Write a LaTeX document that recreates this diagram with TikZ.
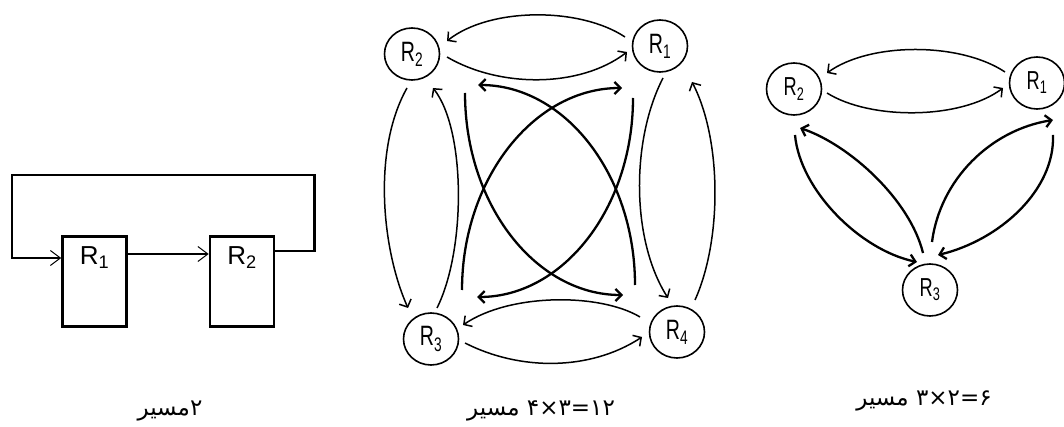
\documentclass[tikz,border=0pt]{standalone}
\usepackage{fontspec}
\setmainfont{Liberation Sans}
\newfontfamily\farsi[Script=Arabic]{DejaVu Sans}
\newfontfamily\narrowsf[FakeStretch=0.7]{Liberation Sans}
\usetikzlibrary{arrows.meta,calc,shapes.geometric}
\TeXXeTstate=1

\tikzset{
  reg/.style={draw,ellipse,line width=1.6pt,minimum width=55pt,minimum height=52pt,
    inner sep=0pt,font=\narrowsf\fontsize{28}{28}\selectfont},
  regr/.style={reg,font=\narrowsf\fontsize{26}{26}\selectfont},
  regbox/.style={draw,line width=2.6pt,minimum width=64pt,minimum height=90pt,inner sep=0pt},
  boxlab/.style={anchor=north,inner sep=0pt,yshift=-11.5pt,font=\fontsize{26}{26}\selectfont},
  wire/.style={line width=2.6pt},
  link/.style={line width=1.5pt,-{Straight Barb[length=6pt,width=13pt]}},
  boldlink/.style={line width=2.3pt,-{Straight Barb[length=6pt,width=12pt]}},
  caption/.style={font=\farsi\fontsize{23}{23}\selectfont}
}

\begin{document}
\begin{tikzpicture}[x=1pt,y=-1pt,>={Straight Barb[length=10pt,width=15pt,line width=1pt]}]
\useasboundingbox (0,0) rectangle (1064,427);

% two registers in a ring
\node[regbox,label={[boxlab]north:R\textsubscript{1}}] (R1b) at (94.5,281.5) {};
\node[regbox,label={[boxlab]north:R\textsubscript{2}}] (R2b) at (242,281.5) {};
\draw[wire,->] ($(R1b.east)+(0,-27.5)$) -- ($(R2b.west)+(0,-27.5)$);
\draw[wire,->] ($(R2b.east)+(0,-30.5)$) -- ++(39,0) |- (12,175) |- ($(R1b.west)+(0,-23.5)$);
\node[caption] (capA) at (170,411) {\beginR ۲\hbox{}مسیر\endR};

% four registers
\node[reg] (R2m) at (412,54) {R\textsubscript{2}};
\node[reg] (R1m) at (660,46) {R\textsubscript{1}};
\node[reg] (R3m) at (431,339) {R\textsubscript{3}};
\node[reg] (R4m) at (677,332) {R\textsubscript{4}};

\draw[link] ($(R1m)+(-35,-9)$) .. controls (580,7) and (490,7) .. ($(R2m)+(35,-13)$);
\draw[link] ($(R2m)+(35,3)$) .. controls (500,88) and (580,88) .. ($(R1m)+(-33,6)$);
\draw[link] ($(R2m)+(-5,34)$) .. controls (372,150) and (382,250) .. ($(R3m)+(-23,-31)$);
\draw[link] ($(R3m)+(6,-31)$) .. controls (466,250) and (466,130) .. ($(R2m)+(21,34)$);
\draw[link] ($(R1m)+(3,32)$) .. controls (631,140) and (631,240) .. ($(R4m)+(-9,-34)$);
\draw[link] ($(R4m)+(18,-32)$) .. controls (722,240) and (722,140) .. ($(R1m)+(32,36)$);
\draw[link] ($(R4m)+(-37,-15)$) .. controls (600,293) and (510,293) .. ($(R3m)+(32,-14)$);
\draw[link] ($(R3m)+(34,4)$) .. controls (520,371) and (590,371) .. ($(R4m)+(-35,5)$);

\draw[boldlink] ($(R2m)+(53,39)$) .. controls (465,205) and (536,295) .. ($(R4m)+(-54,-37)$);
\draw[boldlink] ($(R1m)+(-27,52)$) .. controls (633,208) and (563,297) .. ($(R3m)+(46,-42)$);
\draw[boldlink] ($(R3m)+(31,-49)$) .. controls (462,179) and (534,88) .. ($(R1m)+(-38,42)$);
\draw[boldlink] ($(R4m)+(-42,-47)$) .. controls (635,175) and (565,85) .. ($(R2m)+(66,31)$);
\node[caption] (capB) at (541,411) {\beginR ۱۲=۳×۴ مسیر\endR};

% three registers
\node[regr] (R2r) at (794,89) {R\textsubscript{2}};
\node[regr] (R1r) at (1037,83) {R\textsubscript{1}};
\node[regr] (R3r) at (930,290) {R\textsubscript{3}};

\draw[link] ($(R1r)+(-32,-11)$) .. controls (960,42) and (870,42) .. ($(R2r)+(33,-16)$);
\draw[link] ($(R2r)+(33,4)$) .. controls (870,120) and (960,120) .. ($(R1r)+(-34,5)$);
\draw[boldlink] ($(R3r)+(-7,-37)$) .. controls (910,200) and (850,145) .. ($(R2r)+(6,39)$);
\draw[boldlink] ($(R2r)+(1,46)$) .. controls (800,190) and (860,250) .. ($(R3r)+(-13,-28)$);
\draw[boldlink] ($(R1r)+(16,52)$) .. controls (1055,190) and (1000,240) .. ($(R3r)+(8,-35)$);
\draw[boldlink] ($(R3r)+(2,-48)$) .. controls (940,180) and (990,130) .. ($(R1r)+(16,37)$);
\node[caption] (capC) at (924,401) {\beginR ۶=۲×۳ مسیر\endR};
\end{tikzpicture}
\end{document}
